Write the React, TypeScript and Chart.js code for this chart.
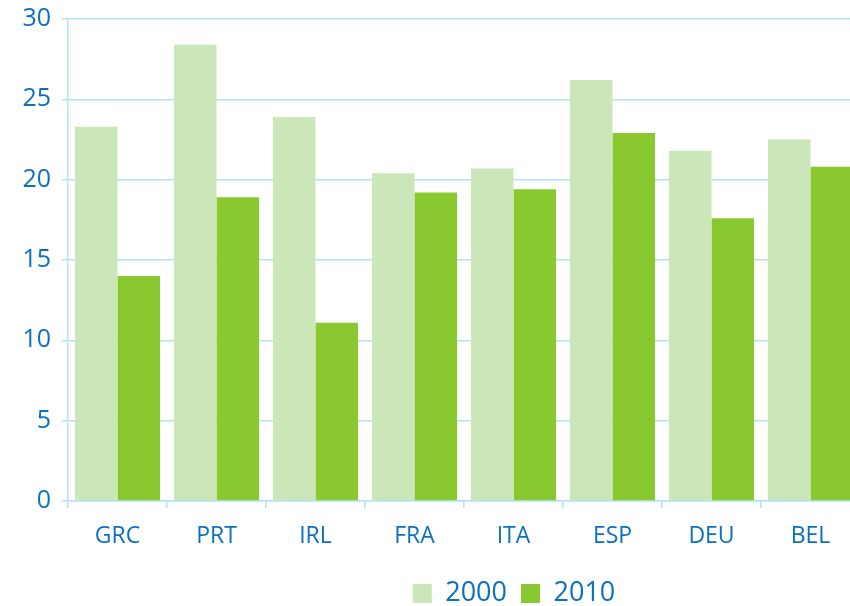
import React, { useEffect, useRef } from "react";
import { Chart, registerables } from "chart.js";

Chart.register(...registerables);

const categories = ["GRC", "PRT", "IRL", "FRA", "ITA", "ESP", "DEU", "BEL"];
const values2000 = [23.3, 28.4, 23.9, 20.4, 20.7, 26.2, 21.8, 22.5];
const values2010 = [14.0, 18.9, 11.1, 19.2, 19.4, 22.9, 17.6, 20.8];
const seriesLabels = ["2000", "2010"];
const yTicks = [0, 5, 10, 15, 20, 25, 30];

const TEXT = "#0b70c0";
const GRID = "#b3e2f6";
const FONT = "'Open Sans', 'Noto Sans', sans-serif";

const legendShift = {
  id: "legendShift",
  afterLayout(chart: any) {
    const lg = chart.legend;
    if (lg) {
      lg.left += 84;
      lg.right += 84;
      lg.top += 11;
      lg.bottom += 11;
    }
  },
};

export default function App() {
  const ref = useRef<HTMLCanvasElement>(null);
  useEffect(() => {
    document.body.style.margin = "0";
    const chart = new Chart(ref.current!, {
      type: "bar",
      data: {
        labels: categories,
        datasets: [
          { label: seriesLabels[0], data: values2000, backgroundColor: "#cbe6b9", borderWidth: 0 },
          { label: seriesLabels[1], data: values2010, backgroundColor: "#8ac82f", borderWidth: 0 },
        ],
      },
      options: {
        animation: false,
        responsive: false,
        maintainAspectRatio: false,
        datasets: { bar: { categoryPercentage: 0.86, barPercentage: 1 } } as any,
        layout: { padding: { top: 19, right: 0, left: 0, bottom: 0 } },
        plugins: {
          tooltip: { enabled: false },
          legend: {
            position: "bottom",
            labels: {
              color: TEXT,
              font: { family: FONT, size: 27 },
              boxWidth: 19,
              boxHeight: 19,
              padding: 14,
            },
          },
        },
        scales: {
          x: {
            afterFit(axis: any) {
              axis.height = 54;
              axis.paddingLeft = 0;
              axis.paddingRight = 0;
            },
            grid: { display: true, drawOnChartArea: false, color: GRID, tickLength: 7, offset: true, lineWidth: 1.5 },
            border: { color: GRID, width: 1.5 },
            ticks: { color: TEXT, font: { family: FONT, size: 23 }, padding: 15 },
          },
          y: {
            min: 0,
            max: 30,
            afterBuildTicks(axis: any) {
              axis.ticks = yTicks.map((v) => ({ value: v }));
            },
            afterFit(axis: any) {
              axis.width = 68;
              axis.paddingTop = 0;
              axis.paddingBottom = 0;
            },
            grid: { color: GRID, tickLength: 6, lineWidth: 1.5 },
            border: { color: GRID, width: 1.5 },
            ticks: { color: TEXT, font: { family: FONT, size: 25 }, padding: 11 },
          },
        },
      },
      plugins: [legendShift],
    });
    return () => chart.destroy();
  }, []);
  return (
    <div style={{ position: "absolute", left: 0, top: 0, width: 850, height: 606, overflow: "hidden" }}>
      <canvas ref={ref} width={860} height={606} />
    </div>
  );
}
